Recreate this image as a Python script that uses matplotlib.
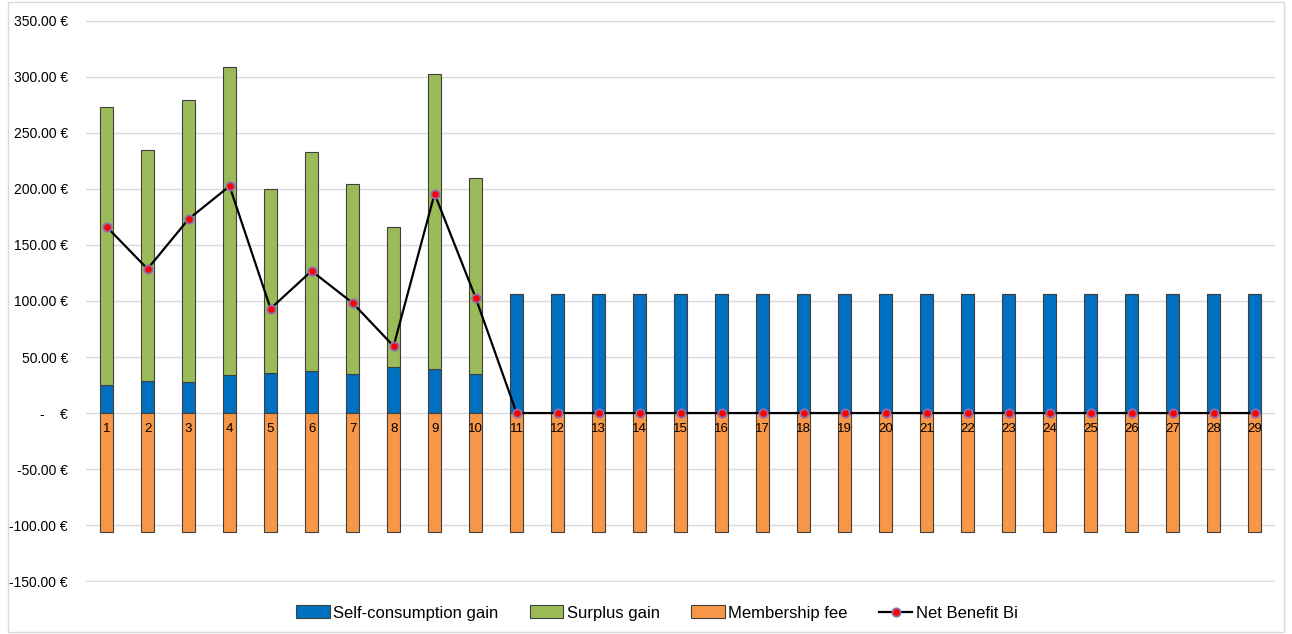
import numpy as np
import matplotlib.pyplot as plt
from matplotlib.ticker import FuncFormatter

plt.rcParams['font.family'] = ['Liberation Sans', 'DejaVu Sans']

# members 1..29
members = list(range(1, 30))
self_consumption = [24.9, 28.5, 27.6, 33.8, 35.9, 37.9, 35.0, 41.0, 39.7, 35.0] + [106.5] * 19
surplus = [247.9, 206.6, 252.0, 275.2, 163.8, 195.4, 169.8, 125.2, 262.5, 174.5] + [0.0] * 19
membership_fee = [-106.5] * 29

self_consumption = np.array(self_consumption)
surplus = np.array(surplus)
membership_fee = np.array(membership_fee)
net_benefit = self_consumption + surplus + membership_fee

x = np.array(members)
w = 0.33

fig = plt.figure(figsize=(12.92, 6.34), dpi=100)
ax = fig.add_axes([0.0666, 0.082, 0.9204, 0.8865])

edge = dict(edgecolor='#404040', linewidth=0.8)
b1 = ax.bar(x, self_consumption, w, color='#0070C0', label='Self-consumption gain', zorder=3, **edge)
b2 = ax.bar(x, surplus, w, bottom=self_consumption, color='#9BBB59', label='Surplus gain', zorder=3, **edge)
b3 = ax.bar(x, membership_fee, w, color='#F79646', label='Membership fee', zorder=3, **edge)
ln, = ax.plot(x, net_benefit, color='black', linewidth=1.6, marker='o', markersize=6,
              markerfacecolor='#FF0000', markeredgecolor='#8E6FB0', markeredgewidth=1.3,
              label='Net Benefit Bi', zorder=4)

# category labels sit just under the zero line
for xi in x:
    ax.text(xi, -9, str(xi), ha='center', va='top', fontsize=9.5, zorder=5)

ax.set_xlim(0.5, 29.5)
ax.set_ylim(-150.8, 350.8)
ax.set_yticks(np.arange(-150, 351, 50))


def euro(v, pos):
    if abs(v) < 1e-9:
        return '-    €'
    return f'{v:.2f} €'


ax.yaxis.set_major_formatter(FuncFormatter(euro))
ax.tick_params(axis='y', length=0, labelsize=10, pad=13)
ax.set_xticks([])
ax.grid(axis='y', color='#d9d9d9', linewidth=1, zorder=0)
for s in ax.spines.values():
    s.set_visible(False)

ax.legend([b1, b2, b3, ln], ['Self-consumption gain', 'Surplus gain', 'Membership fee', 'Net Benefit Bi'],
          loc='upper center', bbox_to_anchor=(0.48, -0.015), ncol=4, frameon=False,
          fontsize=12, handlelength=2.0, handleheight=0.8, columnspacing=1.9, handletextpad=0.2)

# light frame around the whole chart
fig.patches.append(plt.Rectangle((0.006, 0.003), 0.988, 0.994, transform=fig.transFigure,
                                 fill=False, edgecolor='#d9d9d9', linewidth=1))

fig.savefig('out.png', dpi=100)
